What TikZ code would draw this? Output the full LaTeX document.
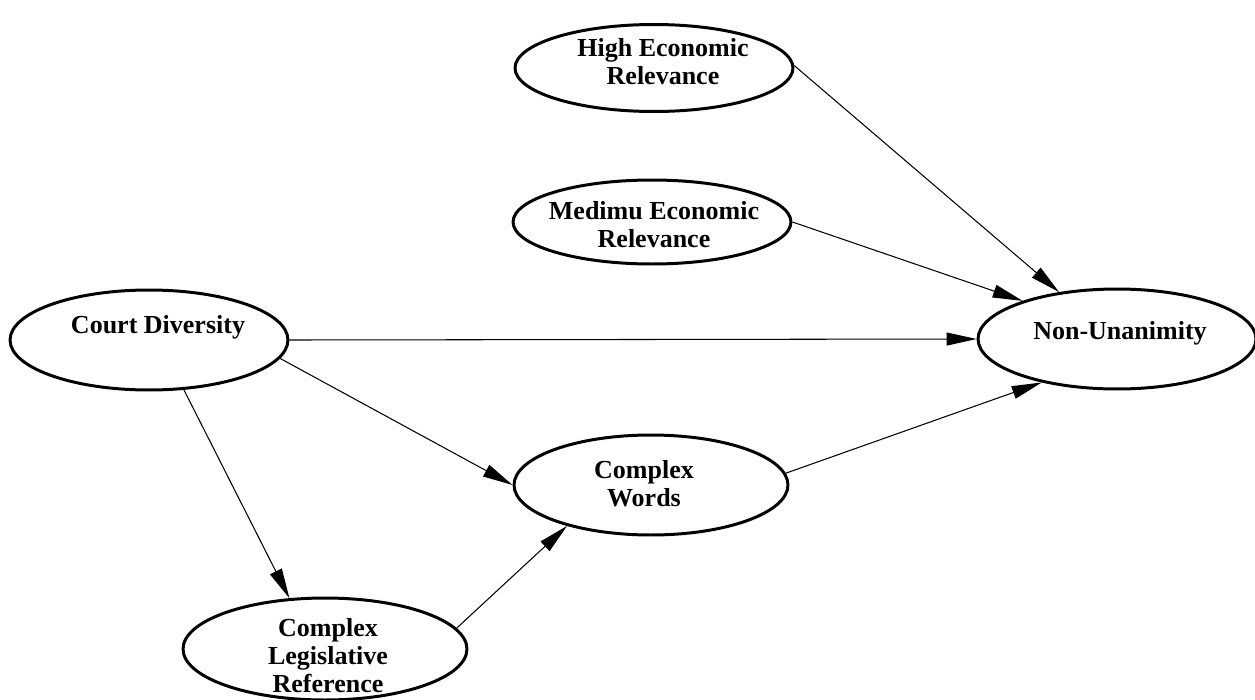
\documentclass[tikz,border=0pt]{standalone}
\usepackage{fontspec}
\setmainfont{Liberation Serif}
\usetikzlibrary{arrows.meta, shapes.geometric}

\begin{document}
\begin{tikzpicture}[
  x=0.02cm, y=-0.02cm,
  varnode/.style={draw, ellipse, line width=1.7pt, inner sep=0pt,
                  minimum width=5.56cm, minimum height=2cm},
  vartext/.style={align=center, inner sep=0pt,
                  font=\fontsize{14.8}{15.9}\selectfont\bfseries},
  link/.style={line width=0.6pt, -{Triangle[length=0.6cm, width=0.26cm]}}
]
  \useasboundingbox (0,0) rectangle (1255,700);

  \node[varnode, minimum height=1.74cm] (high)   at (654, 68)  {};
  \node[varnode, minimum height=1.68cm] (medium) at (652, 222) {};
  \node[varnode] (court) at (149, 340) {};
  \node[varnode] (nonun) at (1117, 339) {};
  \node[varnode, minimum width=5.48cm] (words) at (651, 485) {};
  \node[varnode, minimum width=5.68cm, minimum height=2.04cm] (legis) at (325, 649) {};

  \node[vartext] (high-t)   at (663, 62)  {High Economic\\Relevance};
  \node[vartext] (medium-t) at (654, 225) {Medimu Economic\\Relevance};
  \node[vartext] (court-t)  at (158, 327) {Court Diversity};
  \node[vartext] (nonun-t)  at (1120, 333) {Non-Unanimity};
  \node[vartext] (words-t)  at (644, 484) {Complex\\Words};
  \node[vartext] (legis-t)  at (328, 656) {Complex\\Legislative\\Reference};

  \draw[link] (high.1)    -- (nonun.141);
  \draw[link] (medium.0)  -- (nonun.158);
  \draw[link] (court.east) -- (nonun.west);
  \draw[link] (court.-8)  -- (words.west);
  \draw[link] (court.-55) -- (legis.125);
  \draw[link] (legis.9)   -- (words.-154);
  \draw[link] (words.5)   -- (nonun.-150);
\end{tikzpicture}
\end{document}
